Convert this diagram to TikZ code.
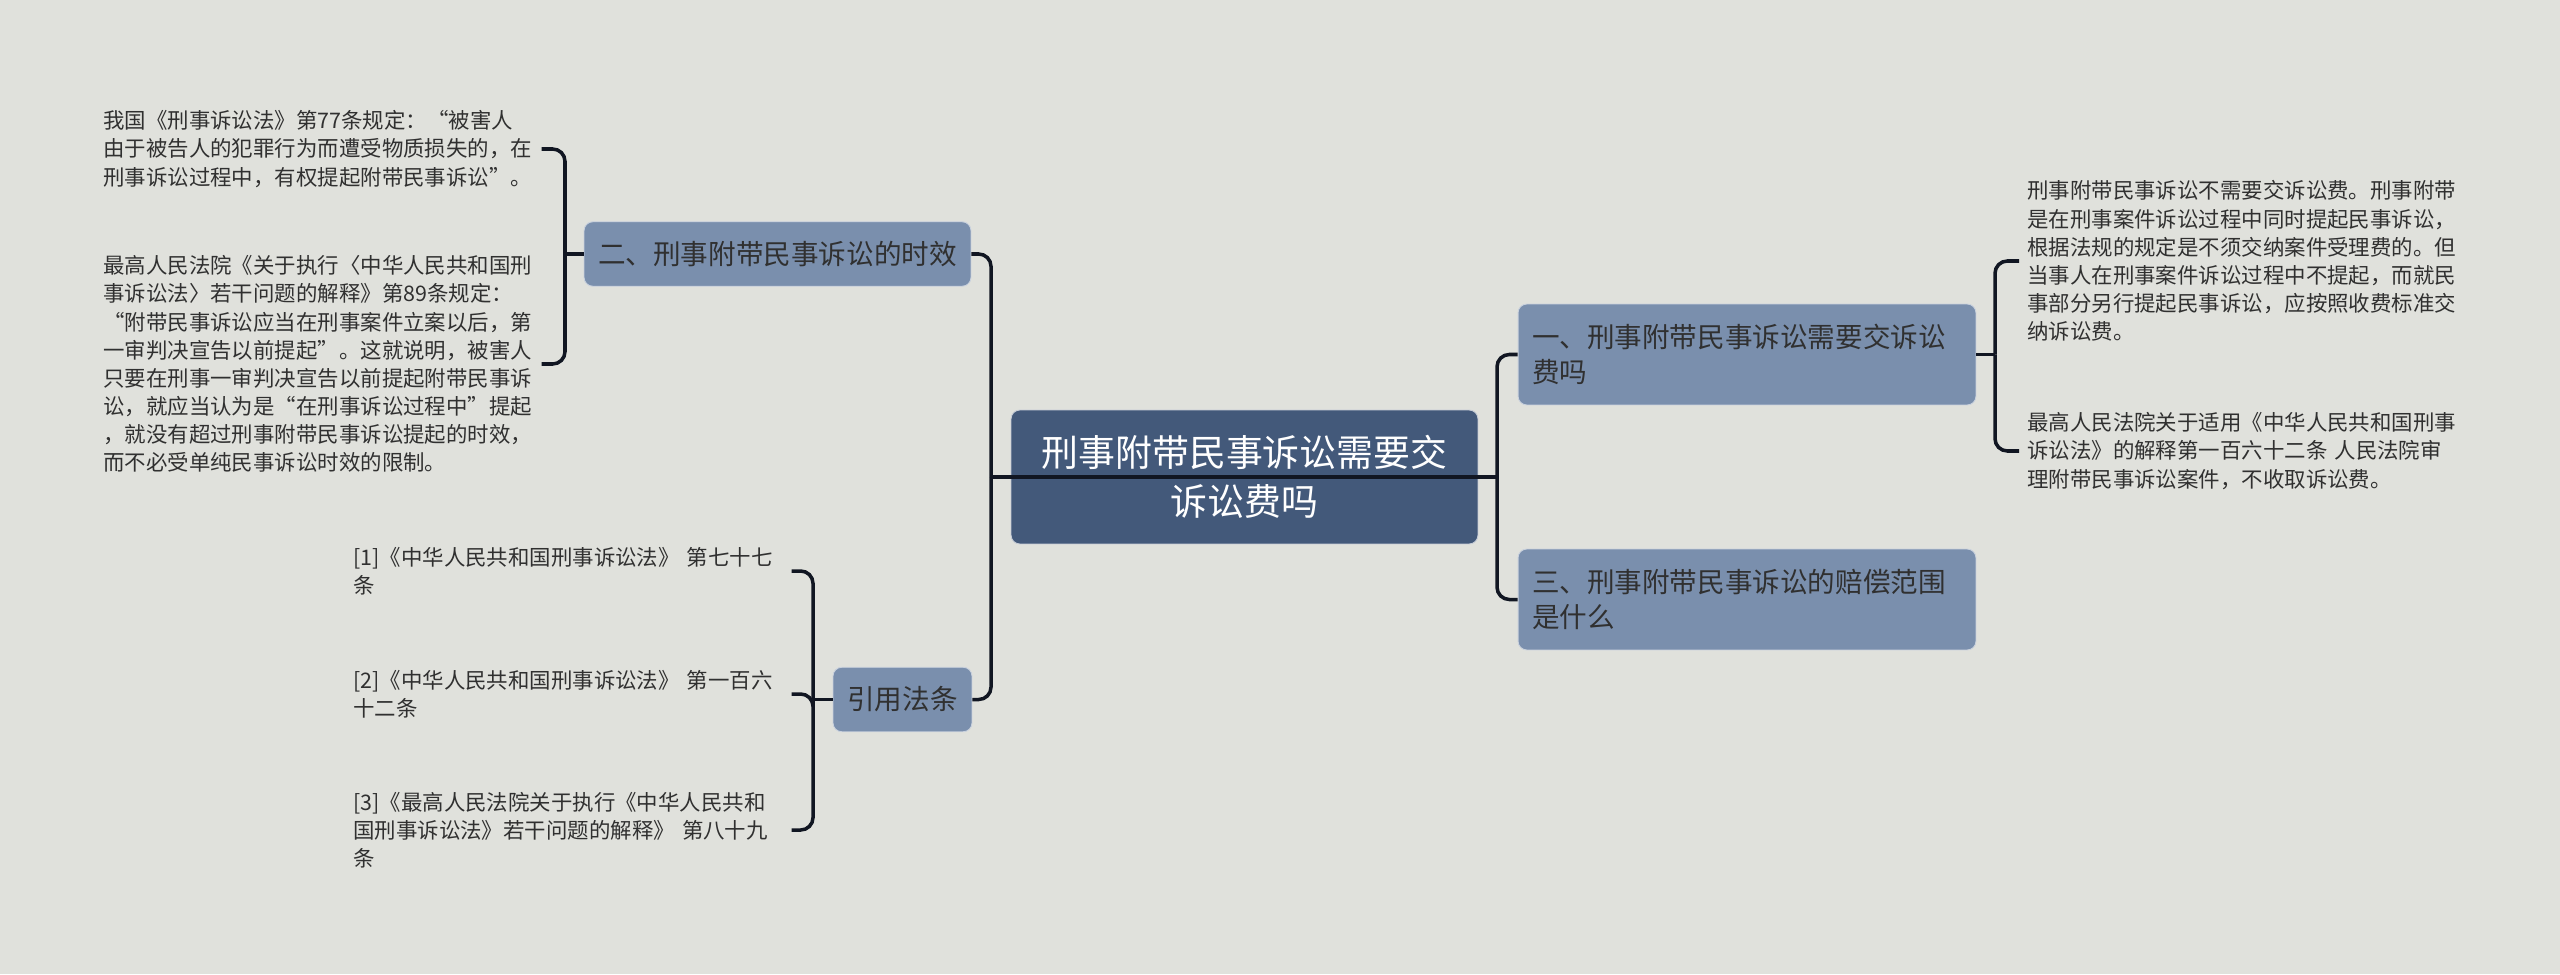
\documentclass[tikz,border=0pt]{standalone}
\usepackage{fontspec}
\setmainfont{Noto Sans CJK SC}
\usepackage{tikz}
\usetikzlibrary{positioning}
\definecolor{mapbg}{RGB}{224,225,220}
\definecolor{mapnavy}{RGB}{67,89,122}
\definecolor{mapslate}{RGB}{122,143,173}
\definecolor{mapink}{RGB}{17,22,34}
\definecolor{maptext}{RGB}{48,48,48}

\begin{document}
\begin{tikzpicture}[x=0.02cm, y=-0.02cm,
      rootbox/.style={rounded corners=5pt, fill=mapnavy, draw=white!70!mapnavy, line width=0.5pt, text=white, align=center, minimum width=9.34cm, minimum height=2.68cm, font=\fontsize{21}{28}\selectfont},
      branch/.style={rounded corners=5pt, fill=mapslate, draw=white!60!mapslate, line width=0.5pt, text=maptext, font=\fontsize{15.7}{20}\selectfont, minimum height=1.29cm},
      branchwide/.style={branch, text width=8.6cm, align=left, inner xsep=0.28cm, minimum height=2.02cm},
      leaf/.style={text=maptext, text width=8.6cm, align=left, inner sep=0.16cm, font=\fontsize{12.2}{16}\selectfont},
      link/.style={draw=mapink, line width=2pt, rounded corners=7pt}
    ]
      \useasboundingbox[fill=mapbg] (0,0) rectangle (2560,974);

      % centre
      \node[rootbox] (root) at (1244.5,477) {刑事附带民事诉讼需要交\\诉讼费吗};
      \coordinate (jl) at (991,477);
      \coordinate (jr) at (1497,477);
      \draw[link] (jl) -- (jr);

      % left branches
      \node[branch, minimum width=7.74cm] (shixiao) at (777.5,254) {二、刑事附带民事诉讼的时效};
      \node[branch, minimum width=2.78cm] (fatiao) at (902.5,699.5) {引用法条};
      \draw[link] (shixiao.east) -| (jl);
      \draw[link] (fatiao.east) -| (jl);

      % right branches
      \node[branchwide] (jiaofei) at (1747,354.5) {一、刑事附带民事诉讼需要交诉讼\\费吗};
      \node[branchwide] (fanwei) at (1747,599.5) {三、刑事附带民事诉讼的赔偿范围\\是什么};
      \draw[link] (jr) |- (jiaofei.west);
      \draw[link] (jr) |- (fanwei.west);

      % leaves of 二
      \node[leaf, anchor=west] (sx1) at (95,149) {我国《刑事诉讼法》第77条规定：“被害人\\由于被告人的犯罪行为而遭受物质损失的，在\\刑事诉讼过程中，有权提起附带民事诉讼”。};
      \node[leaf, anchor=west] (sx2) at (95,364) {最高人民法院《关于执行〈中华人民共和国刑\\事诉讼法〉若干问题的解释》第89条规定：\\“附带民事诉讼应当在刑事案件立案以后，第\\一审判决宣告以前提起”。这就说明，被害人\\只要在刑事一审判决宣告以前提起附带民事诉\\讼，就应当认为是“在刑事诉讼过程中”提起\\，就没有超过刑事附带民事诉讼提起的时效，\\而不必受单纯民事诉讼时效的限制。};
      \coordinate (bsx) at (565,254);
      \draw[link] (shixiao.west) -- (bsx);
      \draw[link] (bsx) |- (sx1.east);
      \draw[link] (bsx) |- (sx2.east);

      % leaves of 引用法条
      \node[leaf, anchor=west] (ft1) at (345,571) {[1]《中华人民共和国刑事诉讼法》 第七十七\\条};
      \node[leaf, anchor=west] (ft2) at (345,694) {[2]《中华人民共和国刑事诉讼法》 第一百六\\十二条};
      \node[leaf, anchor=west] (ft3) at (345,830) {[3]《最高人民法院关于执行《中华人民共和\\国刑事诉讼法》若干问题的解释》 第八十九\\条};
      \coordinate (bft) at (813,699.5);
      \draw[link] (fatiao.west) -- (bft);
      \draw[link] (bft) |- (ft1.east);
      \draw[link] (bft) -- (bft|-ft2.east) -- (ft2.east);
      \draw[link] (bft) |- (ft3.east);

      % leaves of 一
      \node[leaf, anchor=west] (jf1) at (2019,261) {刑事附带民事诉讼不需要交诉讼费。刑事附带\\是在刑事案件诉讼过程中同时提起民事诉讼，\\根据法规的规定是不须交纳案件受理费的。但\\当事人在刑事案件诉讼过程中不提起，而就民\\事部分另行提起民事诉讼，应按照收费标准交\\纳诉讼费。};
      \node[leaf, anchor=west] (jf2) at (2019,451) {最高人民法院关于适用《中华人民共和国刑事\\诉讼法》的解释第一百六十二条 人民法院审\\理附带民事诉讼案件，不收取诉讼费。};
      \coordinate (bjf) at (1995,354.5);
      \draw[link] (jiaofei.east) -- (bjf);
      \draw[link] (bjf) |- (jf1.west);
      \draw[link] (bjf) |- (jf2.west);
    \end{tikzpicture}
\end{document}
